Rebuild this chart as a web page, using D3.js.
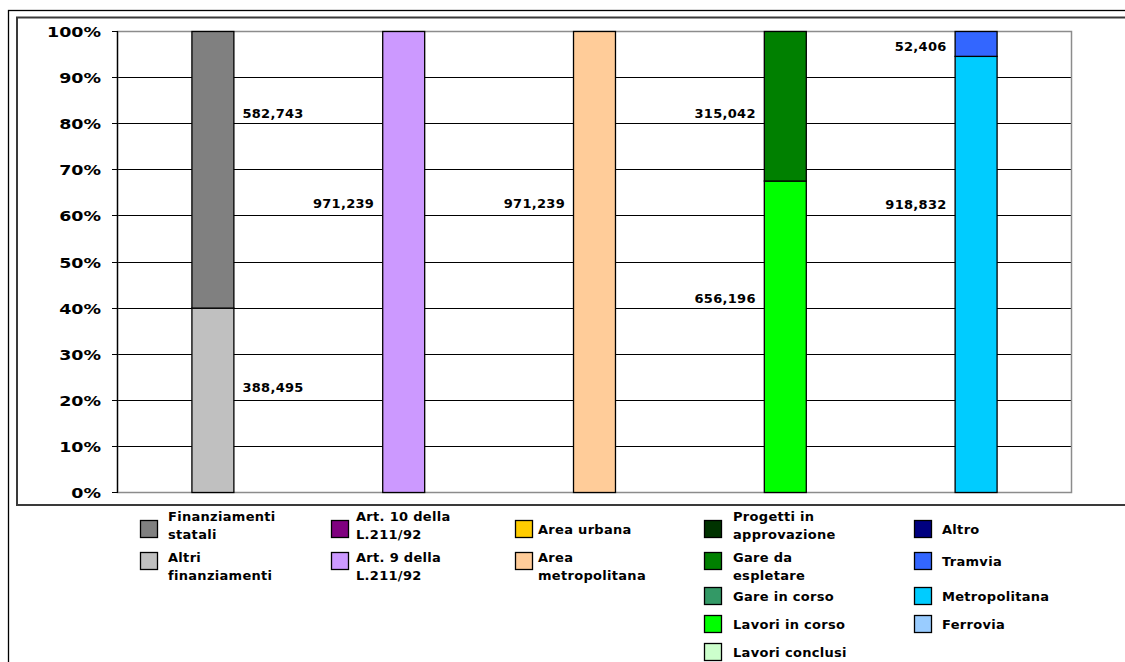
<!DOCTYPE html>
<html>
<head>
<meta charset="utf-8">
<script src="https://cdn.jsdelivr.net/npm/d3@7"></script>
<style>
  body { margin: 0; background: #fff; }
  text { font-family: "DejaVu Sans", Verdana, sans-serif; font-weight: bold; fill: #000; }
</style>
</head>
<body>
<div id="chart"></div>
<script>
// bars (one per breakdown), no axis labels shown on the original
var bars = ["Finanziamento", "Legge", "Area", "Stato", "Tipologia"];

// series, in legend order; "\n" = legend line break
var seriesNames = [
  "Finanziamenti\nstatali", "Altri\nfinanziamenti",
  "Art. 10 della\nL.211/92", "Art. 9 della\nL.211/92",
  "Area urbana", "Area\nmetropolitana",
  "Progetti in\napprovazione", "Gare da\nespletare", "Gare in corso", "Lavori in corso", "Lavori conclusi",
  "Altro", "Tramvia", "Metropolitana", "Ferrovia"
];
var seriesBar = [0, 0, 1, 1, 2, 2, 3, 3, 3, 3, 3, 4, 4, 4, 4];
var seriesValues = [582743, 388495, 0, 971239, 0, 971239, 0, 315042, 0, 656196, 0, 0, 52406, 918832, 0];
var seriesColors = ["#808080", "#C0C0C0", "#800080", "#CC99FF", "#FFCC00", "#FFCC99",
  "#003300", "#008000", "#339966", "#00FF00", "#CCFFCC", "#000080", "#3366FF", "#00CCFF", "#99CCFF"];

var yTicks = [0, 0.1, 0.2, 0.3, 0.4, 0.5, 0.6, 0.7, 0.8, 0.9, 1];

// where the value labels were dropped on the original (share of axis), and which side
var labelAt = [0.822, 0.226, 0, 0.627, 0, 0.627, 0, 0.822, 0, 0.42, 0, 0, 0.966, 0.625, 0];
var labelRight = [true, true, false, false, false, false, false, false, false, false, false, false, false, false, false];

var W = 1125, H = 662;
var plotL = 117, plotR = 1071, plotT = 31, plotB = 492;

var svg = d3.select("#chart")
.append("svg")
  .attr("width", W)
  .attr("height", H);

// outer frames
svg.append("rect")
  .attr("x", 8.5).attr("y", 10.5)
  .attr("width", 1140).attr("height", 700)
  .style("fill", "none").style("stroke", "#000").style("stroke-width", 1.3);
svg.append("rect")
  .attr("x", 17).attr("y", 17.5)
  .attr("width", 1140).attr("height", 487.5)
  .style("fill", "none").style("stroke", "#3a3a3a").style("stroke-width", 2);

var x = d3.scaleBand()
  .domain(bars)
  .range([plotL, plotR])
  .paddingInner(0.78)
  .paddingOuter(0.39);
var y = d3.scaleLinear()
  .domain([0, 1])
  .range([plotB, plotT]);

// gridlines
svg.append("g")
  .selectAll("line")
  .data(yTicks.filter(function(t) { return t > 0 && t < 1; }))
  .join("line")
  .attr("x1", plotL).attr("x2", plotR)
  .attr("y1", function(d) { return Math.round(y(d)) + 0.5; })
  .attr("y2", function(d) { return Math.round(y(d)) + 0.5; })
  .style("stroke", "#000").style("stroke-width", 1);

// plot area border (grey)
svg.append("rect")
  .attr("x", plotL + 0.5).attr("y", plotT + 0.5)
  .attr("width", plotR - plotL).attr("height", plotB - plotT)
  .style("fill", "none").style("stroke", "#8c8c8c").style("stroke-width", 1.5);

// stacked segments
var totals = bars.map(function(b, i) {
  return d3.sum(seriesValues.filter(function(v, j) { return seriesBar[j] === i; }));
});
var segs = [];
bars.forEach(function(b, i) {
  var idx = d3.range(seriesNames.length).filter(function(j) { return seriesBar[j] === i; }).reverse();
  var acc = 0;
  idx.forEach(function(j) {
    var share = seriesValues[j] / totals[i];
    segs.push({ j: j, bar: b, y0: acc, y1: acc + share });
    acc += share;
  });
});

svg.append("g")
  .selectAll("rect")
  .data(segs.filter(function(s) { return seriesValues[s.j] > 0; }))
  .join("rect")
  .attr("x", function(s) { return x(s.bar) + 0.5; })
  .attr("y", function(s) { return y(s.y1) + 0.5; })
  .attr("width", x.bandwidth())
  .attr("height", function(s) { return y(s.y0) - y(s.y1); })
  .style("fill", function(s) { return seriesColors[s.j]; })
  .style("stroke", "#000").style("stroke-width", 1.3);

// value axis
svg.append("line")
  .attr("x1", plotL + 0.5).attr("x2", plotL + 0.5)
  .attr("y1", plotT).attr("y2", plotB + 1)
  .style("stroke", "#000").style("stroke-width", 1.3);
var ticks = svg.append("g")
  .selectAll("g")
  .data(yTicks)
  .join("g");
ticks.append("line")
  .attr("x1", plotL - 5).attr("x2", plotL)
  .attr("y1", function(d) { return Math.round(y(d)) + 0.5; })
  .attr("y2", function(d) { return Math.round(y(d)) + 0.5; })
  .style("stroke", "#000");
ticks.append("g")
  .attr("transform", function(d) { return "translate(101," + (y(d) + 1) + ") scale(1.25,1)"; })
.append("text")
  .attr("text-anchor", "end")
  .attr("dy", "0.36em")
  .style("font-size", "14px")
  .text(function(d) { return d3.format(".0%")(d); });

// value labels
svg.append("g")
  .selectAll("text")
  .data(segs.filter(function(s) { return seriesValues[s.j] > 0; }))
  .join("text")
  .attr("x", function(s) { return labelRight[s.j] ? x(s.bar) + x.bandwidth() + 9 : x(s.bar) - 8; })
  .attr("y", function(s) { return y(labelAt[s.j]); })
  .attr("dy", "0.36em")
  .attr("text-anchor", function(s) { return labelRight[s.j] ? "start" : "end"; })
  .style("font-size", "13px")
  .style("letter-spacing", "0.3px")
  .text(function(s) { return d3.format(",")(seriesValues[s.j]); });

// legend
var legSwatchX = [140, 331, 515, 704, 914];
var legTextX = [168, 356, 538, 733, 942];
var legRowY = [520, 552, 587, 615, 643];
var rowInBar = seriesBar.map(function(b, j) {
  return seriesBar.slice(0, j).filter(function(c) { return c === b; }).length;
});

var leg = svg.append("g")
  .selectAll("g")
  .data(d3.range(seriesNames.length))
  .join("g");
leg.append("rect")
  .attr("x", function(j) { return legSwatchX[seriesBar[j]] + 0.5; })
  .attr("y", function(j) { return legRowY[rowInBar[j]] + 0.5; })
  .attr("width", 17).attr("height", 17)
  .style("fill", function(j) { return seriesColors[j]; })
  .style("stroke", "#000").style("stroke-width", 1.3);
leg.each(function(j) {
  var lines = seriesNames[j].split("\n");
  var top0 = legRowY[rowInBar[j]];
  var base;
  if (lines.length === 1) base = top0 + 14;
  else if (rowInBar[j] === 0) base = top0 + 1;
  else base = top0 + 10;
  var t = d3.select(this).append("text")
    .attr("x", legTextX[seriesBar[j]])
    .attr("y", base)
    .style("font-size", "13px")
    .style("letter-spacing", "0.3px");
  lines.forEach(function(l, k) {
    t.append("tspan")
      .attr("x", legTextX[seriesBar[j]])
      .attr("dy", k === 0 ? 0 : 17.5)
      .text(l);
  });
});
</script>
</body>
</html>
